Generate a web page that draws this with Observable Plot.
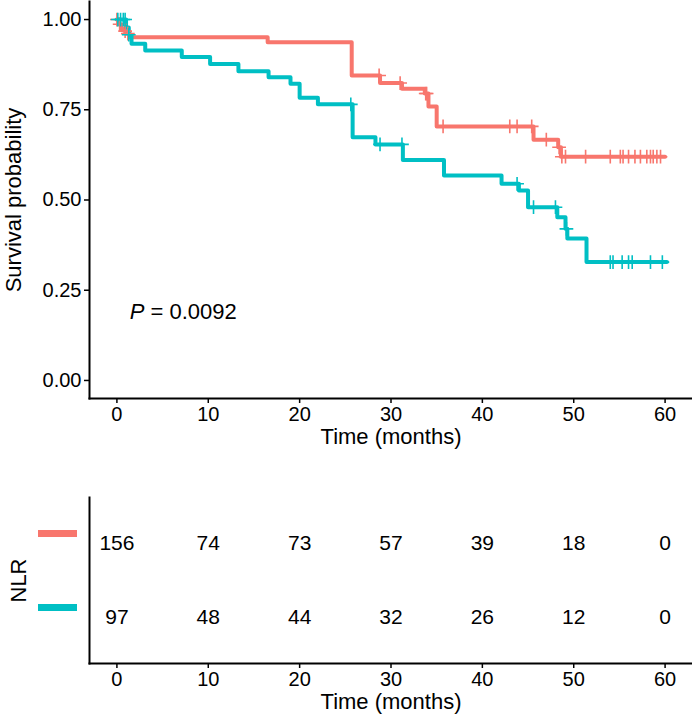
<!DOCTYPE html>
<html><head><meta charset="utf-8">
<script src="https://cdn.jsdelivr.net/npm/d3@7"></script>
<script src="https://cdn.jsdelivr.net/npm/@observablehq/plot@0.6"></script>
<style>
body{margin:0;background:#fff;}
#wrap{position:relative;width:692px;height:718px;font-family:"Liberation Sans",Arial,sans-serif;}
#wrap svg{position:absolute;left:0;}
</style></head><body><div id="wrap"></div>
<script>
// ---- data ----
const strata = ["NLR group 1", "NLR group 2"];
const colors = ["#F8766D", "#00BFC4"];
const xTicks = [0, 10, 20, 30, 40, 50, 60];
const yTicks = [0, 0.25, 0.5, 0.75, 1];
const xTitle = "Time (months)";
const yTitle = "Survival probability";
const tableTitle = "NLR";
const pvalLabel = "P";
const pvalText = " = 0.0092";
const pvalPos = [1.4, 0.19];

const redTime = [0, 0.2, 0.5, 0.8, 1.0, 1.4, 16.5, 25.7, 28.8, 31.2, 33.7, 34.1, 35.0, 45.6, 48.3, 48.6];
const redSurv = [1.0, 0.987, 0.974, 0.968, 0.961, 0.951, 0.937, 0.845, 0.824, 0.808, 0.795, 0.759, 0.704, 0.667, 0.646, 0.620];
const redEnd = 60.0;
const redCensor = [0.0, 0.3, 0.9, 1.2, 28.7, 31.0, 33.8, 33.9, 35.7, 43.0, 43.8, 45.4, 47.0, 48.4, 48.7, 49.1, 51.3, 54.0, 55.1, 55.4, 56.0, 56.7, 57.3, 58.0, 58.4, 58.7, 59.1, 59.5];

const tealTime = [0, 1.0, 1.3, 1.6, 3.1, 7.1, 10.2, 13.3, 16.6, 19.0, 20.0, 22.0, 25.8, 28.3, 31.3, 35.8, 42.1, 44.0, 45.0, 48.2, 49.1, 49.3, 51.4];
const tealSurv = [1.0, 0.978, 0.958, 0.933, 0.914, 0.896, 0.877, 0.857, 0.840, 0.822, 0.783, 0.765, 0.674, 0.654, 0.611, 0.568, 0.545, 0.526, 0.480, 0.452, 0.420, 0.393, 0.328];
const tealEnd = 60.2;
const tealCensor = [0.1, 0.4, 0.7, 0.9, 1.3, 25.6, 28.8, 31.2, 43.8, 45.6, 48.0, 49.2, 54.0, 54.3, 55.3, 56.0, 56.4, 58.4, 59.7];

const riskTimes = [0, 10, 20, 30, 40, 50, 60];
const riskRed = [156, 74, 73, 57, 39, 18, 0];
const riskTeal = [97, 48, 44, 32, 26, 12, 0];

// ---- build tables ----
function stepAt(T, S, t) { let s = S[0]; for (let i = 0; i < T.length; i++) if (T[i] <= t) s = S[i]; return s; }
const groups = [[redTime, redSurv, redEnd, redCensor], [tealTime, tealSurv, tealEnd, tealCensor]];
const lineData = [], censorData = [];
groups.forEach(([T, S, end, C], k) => {
  T.forEach((t, i) => lineData.push({t, s: S[i], g: strata[k]}));
  lineData.push({t: end, s: S[S.length - 1], g: strata[k]});
  C.forEach(t => censorData.push({t, s: stepAt(T, S, t), g: strata[k]}));
});
const riskData = [];
riskTimes.forEach((t, i) => {
  riskData.push({t, g: strata[0], n: riskRed[i]});
  riskData.push({t, g: strata[1], n: riskTeal[i]});
});

const font = '"Liberation Sans", Arial, sans-serif';
const W = 692;
const baseStyle = {fontFamily: font, fontSize: "20px", color: "#000", background: "transparent", overflow: "visible"};

const kmChart = Plot.plot({
  width: W, height: 470, marginTop: 1, marginBottom: 72, marginLeft: 89, marginRight: 0,
  style: baseStyle,
  x: {domain: [-3, 63]},
  y: {domain: [-0.05, 1.05]},
  color: {domain: strata, range: colors},
  marks: [
    Plot.axisX(xTicks, {tickSize: 5, tickPadding: 3, fontSize: 20, strokeWidth: 1.5, label: null}),
    Plot.axisY(yTicks, {tickSize: 5, tickPadding: 3, fontSize: 20, strokeWidth: 1.5, tickFormat: d3.format(".2f"), label: null}),
    Plot.frame({anchor: "left", strokeWidth: 2}),
    Plot.frame({anchor: "bottom", strokeWidth: 2}),
    Plot.line(lineData, {x: "t", y: "s", z: "g", stroke: "g", curve: "step-after", strokeWidth: 4}),
    Plot.dot(censorData, {x: "t", y: "s", stroke: "g", symbol: "plus", r: 4.5, strokeWidth: 1.6}),
    Plot.text([pvalLabel], {x: pvalPos[0], y: pvalPos[1], text: d => d, textAnchor: "start", fontStyle: "italic", fontSize: 22}),
    Plot.text([pvalText], {x: pvalPos[0], y: pvalPos[1], text: d => d, textAnchor: "start", fontSize: 22, dx: 14.7}),
    Plot.text([xTitle], {frameAnchor: "bottom", text: d => d, dy: 45, fontSize: 22}),
    Plot.text([yTitle], {frameAnchor: "left", textAnchor: "middle", text: d => d, rotate: -90, dx: -76, fontSize: 22})
  ]
});
kmChart.style.top = "0px";

const riskChart = Plot.plot({
  width: W, height: 248, marginTop: 27, marginBottom: 55, marginLeft: 89, marginRight: 0,
  style: baseStyle,
  x: {domain: [-3, 63], axis: null},
  y: {type: "point", domain: strata, padding: 0.607, axis: null},
  color: {domain: strata, range: colors},
  marks: [
    Plot.axisX(xTicks, {tickSize: 5, tickPadding: 3, fontSize: 20, strokeWidth: 1.5, label: null}),
    // legend bars standing in for the y-axis labels (one per stratum, coloured by the stratum)
    Plot.ruleY(strata, {y: d => d, stroke: d => d, strokeWidth: 7, dx: -51, dy: -10, insetRight: 564}),
    Plot.frame({anchor: "left", strokeWidth: 2}),
    Plot.frame({anchor: "bottom", strokeWidth: 2}),
    Plot.text(riskData, {x: "t", y: "g", text: "n", fontSize: 21}),
    Plot.text([xTitle], {frameAnchor: "bottom", text: d => d, dy: 45, fontSize: 22}),
    Plot.text([tableTitle], {frameAnchor: "left", textAnchor: "middle", text: d => d, rotate: -90, dx: -71, fontSize: 22})
  ]
});
riskChart.style.top = "470px";

const wrap = document.getElementById("wrap");
wrap.appendChild(kmChart);
wrap.appendChild(riskChart);
</script></body></html>
